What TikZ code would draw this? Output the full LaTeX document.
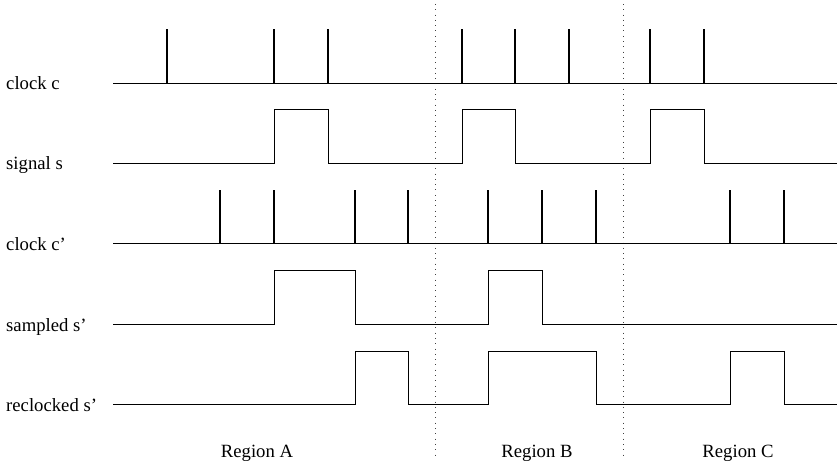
\documentclass[tikz,border=0pt]{standalone}
\usepackage{fontspec}
\setmainfont{Liberation Serif}
\begin{document}
\begin{tikzpicture}[x=1pt,y=-1pt,
  wave/.style={line width=0.9pt,line join=miter},
  tick/.style={line width=2pt},
  divider/.style={line width=0.8pt,black!75,dash pattern=on 1pt off 4.3pt},
  rowlabel/.style={anchor=base west,inner sep=0pt,font=\fontsize{18.7}{22}\selectfont},
  regionlabel/.style={anchor=base,inner sep=0pt,font=\fontsize{18.7}{22}\selectfont}]
\useasboundingbox (0,0) rectangle (837,465);

% region dividers
\draw[divider] (435,4) -- (435,455);
\draw[divider] (623,4) -- (623,455);

% clock c
\node[rowlabel] (lclk) at (6,90) {clock c};
\draw[wave] (113,83) -- (837,83);
\foreach \t in {167,274,328,462,515,569,650,704}
  \draw[tick] (\t,83) -- (\t,29);

% signal s
\node[rowlabel] (lsig) at (6,170) {signal s};
\draw[wave] (113,163) -- (274,163) -- (274,109) -- (328,109) -- (328,163)
  -- (462,163) -- (462,109) -- (515,109) -- (515,163)
  -- (650,163) -- (650,109) -- (704,109) -- (704,163) -- (837,163);

% clock c'
\node[rowlabel] (lclkb) at (6,250) {clock c'};
\draw[wave] (113,243) -- (837,243);
\foreach \t in {220,274,355,408,488,542,596,730,784}
  \draw[tick] (\t,243) -- (\t,190);

% sampled s'
\node[rowlabel] (lsmp) at (6,331) {sampled s'};
\draw[wave] (113,324) -- (274,324) -- (274,270) -- (355,270) -- (355,324)
  -- (488,324) -- (488,270) -- (542,270) -- (542,324) -- (837,324);

% reclocked s'
\node[rowlabel] (lrec) at (6,411) {reclocked s'};
\draw[wave] (113,404) -- (355,404) -- (355,351) -- (408,351) -- (408,404)
  -- (488,404) -- (488,351) -- (596,351) -- (596,404)
  -- (730,404) -- (730,351) -- (784,351) -- (784,404) -- (837,404);

% region names
\node[regionlabel] (ra) at (257,457) {Region A};
\node[regionlabel] (rb) at (537,457) {Region B};
\node[regionlabel] (rc) at (738,457) {Region C};
\end{tikzpicture}
\end{document}
